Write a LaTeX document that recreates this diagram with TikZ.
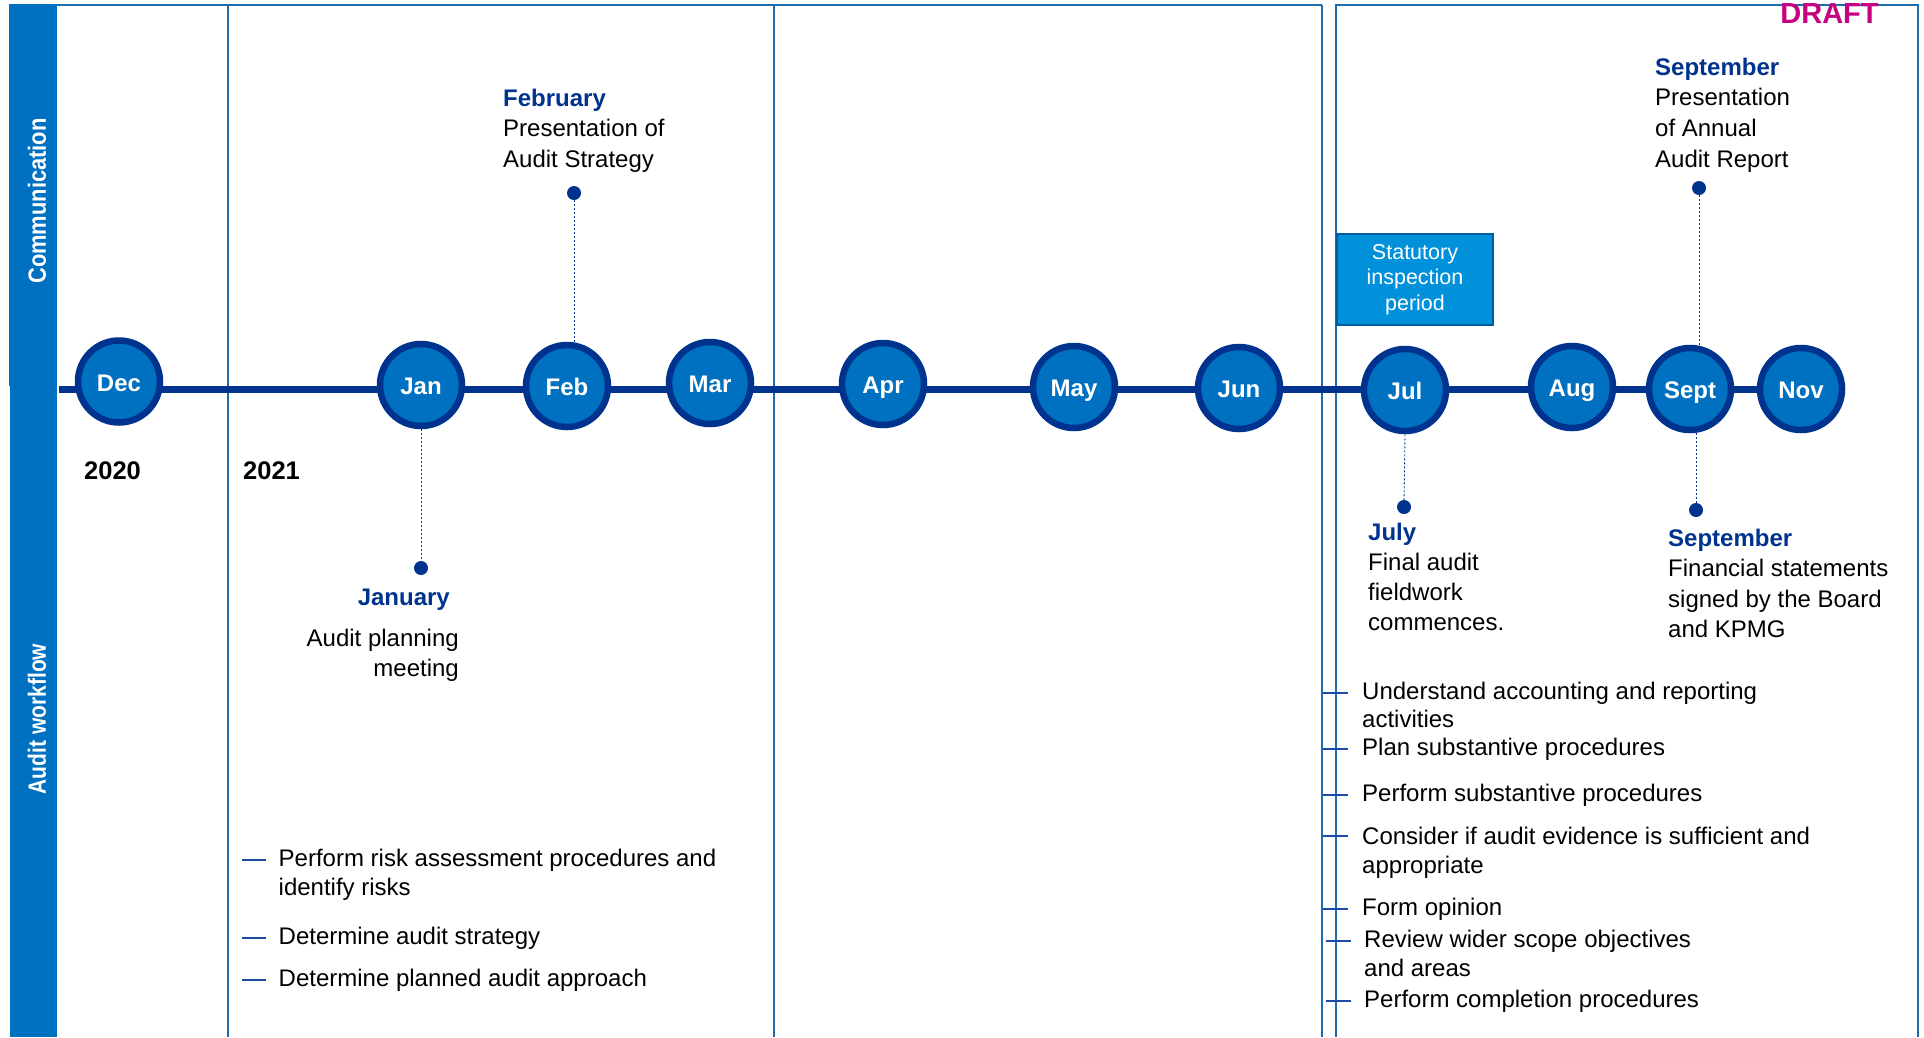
\documentclass[tikz,border=0pt]{standalone}
\usepackage{fontspec}
\setmainfont{Liberation Sans}
\definecolor{navy}{RGB}{0,51,141}
\definecolor{circfill}{RGB}{0,112,192}
\definecolor{framec}{RGB}{30,110,170}
\definecolor{barfill}{RGB}{0,112,192}
\definecolor{statfill}{RGB}{0,145,218}
\definecolor{statborder}{RGB}{0,94,160}
\definecolor{draftc}{RGB}{198,0,126}
\definecolor{tickc}{RGB}{30,75,165}
\tikzset{
  frameline/.style={draw=framec, line width=2.4pt},
  timeline/.style={draw=navy, line width=7pt},
  month/.style={circle, fill=circfill, draw=navy, line width=6.5pt, minimum size=82pt, inner sep=0pt,
    text=white, font=\bfseries\fontsize{24}{24}\selectfont, text height=19.5pt, text depth=0pt},
  evdot/.style={circle, fill=navy, minimum size=14pt, inner sep=0pt},
  dotline/.style={draw=navy, line width=0.9pt, dash pattern=on 2pt off 2pt},
  bodytext/.style={inner sep=0pt, align=left, text=black},
  headtext/.style={inner sep=0pt, text=navy, font=\bfseries\fontsize{24}{30}\selectfont},
  bullettick/.style={draw=tickc, line width=2pt},
  barlabel/.style={text=white, rotate=90, inner sep=0pt, font=\bfseries\fontsize{25}{25}\selectfont},
  yearlabel/.style={inner sep=0pt, anchor=base west, font=\bfseries\fontsize{25.5}{25.5}\selectfont},
  statbox/.style={fill=statfill, draw=statborder, line width=2pt, minimum width=156pt, minimum height=91pt,
    inner sep=0pt, align=center, text=white, font=\fontsize{21.5}{25.5}\selectfont}
}
\begin{document}
\begin{tikzpicture}[x=1pt,y=-1pt]
\useasboundingbox (0,0) rectangle (1924,1037);
% side bars
\fill[barfill] (9,4) rectangle (57,386);
\fill[barfill] (10,386) rectangle (57,1037);
\node[barlabel] (comm) at (37,201) {\scalebox{0.875}[1]{Communication}};
\node[barlabel] (workflow) at (37,719) {\scalebox{0.84}[1]{Audit workflow}};
% frames
\draw[frameline] (57,5) -- (1322,5);
\draw[frameline] (228,5) -- (228,1037);
\draw[frameline] (774,5) -- (774,1037);
\draw[frameline] (1322,5) -- (1322,1037);
\draw[frameline] (1336,1037) -- (1336,5) -- (1918,5) -- (1918,1037);
% timeline
\coordinate (tlA) at (59,389);
\coordinate (tlB) at (1843,389);
\draw[timeline] (tlA) -- (tlB);
\node[month] (dec) at (119,381.5) {Dec};
\node[month] (jan) at (421,385) {Jan};
\node[month] (feb) at (567,386) {Feb};
\node[month] (mar) at (710,383) {Mar};
\node[month] (apr) at (883,384) {Apr};
\node[month] (may) at (1074,387) {May};
\node[month] (jun) at (1239,388) {Jun};
\node[month] (jul) at (1405,390) {Jul};
\node[month] (aug) at (1572,387) {Aug};
\node[month] (sept) at (1690,389) {Sept};
\node[month] (nov) at (1801,389) {Nov};
% statutory box
\node[statbox] (stat) at (1415,279.5) {Statutory\\inspection\\period};
% event dots
\node[evdot] (febdot) at (574,193) {};
\node[evdot] (jandot) at (421,568) {};
\node[evdot] (septtopdot) at (1699,188) {};
\node[evdot] (juldot) at (1404,507) {};
\node[evdot] (septbotdot) at (1696,510) {};
\draw[dotline] (febdot) -- (febdot |- feb.north);
\draw[dotline] (jan.south) -- (jandot);
\draw[dotline] (septtopdot) -- (septtopdot |- sept.north);
\draw[dotline] (jul.south) -- (juldot);
\draw[dotline] (septbotdot |- sept.south) -- (septbotdot);
% years
\node[yearlabel] (y2020) at (84,479) {2020};
\node[yearlabel] (y2021) at (243,479) {2021};
% event texts (multi-line nodes: base anchor = last line baseline)
\node[bodytext, anchor=base west, font=\fontsize{24}{30.5}\selectfont] (febtxt) at (503,167)
  {{\bfseries\color{navy}February}\\Presentation of\\Audit Strategy};
\node[bodytext, anchor=base west, font=\fontsize{24}{30.6}\selectfont] (septtoptxt) at (1655,167)
  {{\bfseries\color{navy}September}\\Presentation\\of Annual\\Audit Report};
\node[headtext, anchor=base east] (jantitle) at (450,605) {January};
\node[bodytext, align=right, anchor=base east, font=\fontsize{24}{30}\selectfont] (jantxt) at (459,676)
  {Audit planning\\meeting};
\node[bodytext, anchor=base west, font=\fontsize{24}{30}\selectfont] (jultxt) at (1368,630)
  {{\bfseries\color{navy}July}\\Final audit\\fieldwork\\commences.};
\node[bodytext, anchor=base west, font=\fontsize{24}{30.5}\selectfont] (septbottxt) at (1668,637.5)
  {{\bfseries\color{navy}September}\\Financial statements\\signed by the Board\\and KPMG};
% left bullets
\node[bodytext, anchor=base west, font=\fontsize{24}{29}\selectfont] (lb1) at (278.5,895.5)
  {Perform risk assessment procedures and\\identify risks};
\node[bodytext, anchor=base west, font=\fontsize{24}{29}\selectfont] (lb2) at (278.5,944) {Determine audit strategy};
\node[bodytext, anchor=base west, font=\fontsize{24}{29}\selectfont] (lb3) at (278.5,986) {Determine planned audit approach};
\draw[bullettick] (242,860) -- (266,860);
\draw[bullettick] (242,938) -- (266,938);
\draw[bullettick] (242,980) -- (266,980);
% right bullets
\node[bodytext, anchor=base west, font=\fontsize{24}{28}\selectfont] (rb1) at (1362,727)
  {Understand accounting and reporting\\activities};
\node[bodytext, anchor=base west, font=\fontsize{24}{29}\selectfont] (rb2) at (1362,755) {Plan substantive procedures};
\node[bodytext, anchor=base west, font=\fontsize{24}{29}\selectfont] (rb3) at (1362,801) {Perform substantive procedures};
\node[bodytext, anchor=base west, font=\fontsize{24}{29.5}\selectfont] (rb4) at (1362,873.5)
  {Consider if audit evidence is sufficient and\\appropriate};
\node[bodytext, anchor=base west, font=\fontsize{24}{29}\selectfont] (rb5) at (1362,915) {Form opinion};
\node[bodytext, anchor=base west, font=\fontsize{24}{29}\selectfont] (rb6) at (1364,976)
  {Review wider scope objectives\\and areas};
\node[bodytext, anchor=base west, font=\fontsize{24}{29}\selectfont] (rb7) at (1364,1007) {Perform completion procedures};
\foreach \yy in {693,749,794.5,836,909}
  {\draw[bullettick] (1323,\yy) -- (1348,\yy);}
\foreach \yy in {941,1001}
  {\draw[bullettick] (1326,\yy) -- (1351,\yy);}
% draft
\node[inner sep=0pt, anchor=base, text=draftc, font=\bfseries\fontsize{29}{29}\selectfont] (draft) at (1829.5,23.5) {DRAFT};
\end{tikzpicture}
\end{document}
